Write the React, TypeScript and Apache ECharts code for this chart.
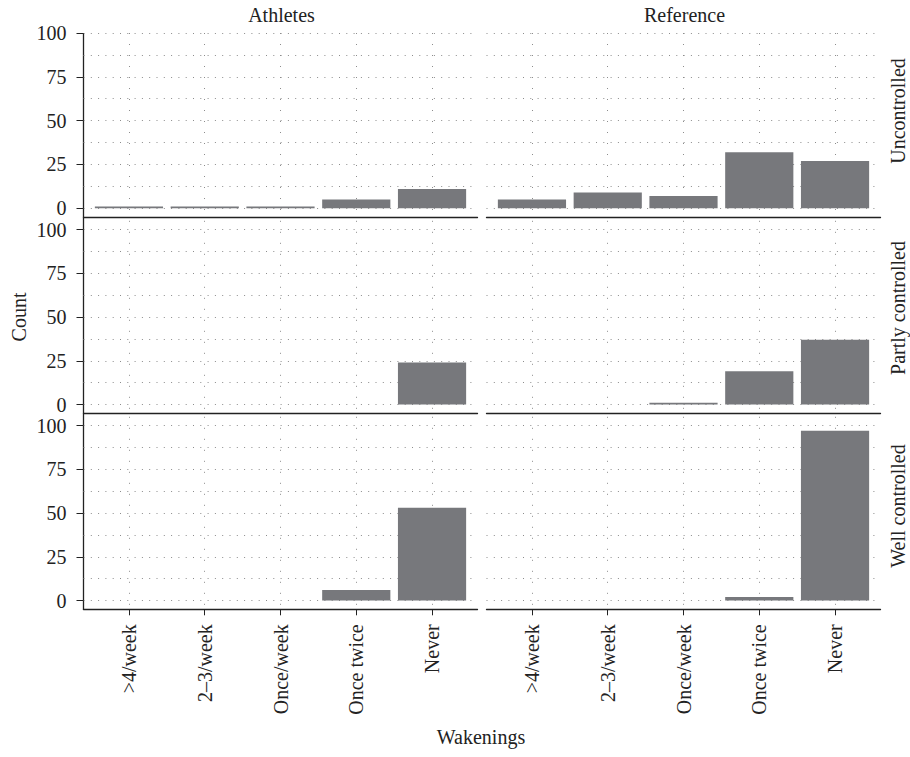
import React, { useEffect, useRef } from "react";
import * as echarts from "echarts";

// Wakening frequency categories (x axis)
const categories = [">4/week", "2–3/week", "Once/week", "Once twice", "Never"];
// Facet columns and rows
const groups = ["Athletes", "Reference"];
const controlLevels = ["Uncontrolled", "Partly controlled", "Well controlled"];
// Counts per facet
const athletesUncontrolled = [1, 1, 1, 5, 11];
const referenceUncontrolled = [5, 9, 7, 32, 27];
const athletesPartly = [0, 0, 0, 0, 24];
const referencePartly = [0, 0, 1, 19, 37];
const athletesWell = [0, 0, 0, 6, 53];
const referenceWell = [0, 0, 0, 2, 97];
// Y tick labels and minor grid values
const yTicks = [0, 25, 50, 75, 100];
const yMinor = [12.5, 37.5, 62.5, 87.5];

const facetData = [
  [athletesUncontrolled, referenceUncontrolled],
  [athletesPartly, referencePartly],
  [athletesWell, referenceWell],
];

const FONT = "Liberation Serif";
const TEXT = "#222";
const BAR = "#77787c";
const DOT = "#8c8c8c";

export default function App() {
  const ref = useRef<HTMLDivElement>(null);

  useEffect(() => {
    document.body.style.margin = "0";
    if (!ref.current) return;
    const chart = echarts.init(ref.current, undefined, { renderer: "svg" });

    const colLeft = [83.5, 486.5];
    const colWidth = 394;
    const rowTop = [33, 220.8, 416.8];
    const rowHeight = [184, 192.5, 192.5];
    const rowMax = [100, 105, 105];
    const catPos = categories.map((_, i) => i + 1);

    const grids: any[] = [];
    const xAxes: any[] = [];
    const yAxes: any[] = [];
    const series: any[] = [];

    for (let r = 0; r < 3; r++) {
      for (let c = 0; c < 2; c++) {
        const gi = grids.length;
        grids.push({
          left: colLeft[c],
          top: rowTop[r],
          width: colWidth,
          height: rowHeight[r],
          containLabel: false,
        });
        const bottomRow = r === 2;
        xAxes.push({
          type: "value",
          gridIndex: gi,
          min: 0.4,
          max: 5.6,
          position: "bottom",
          axisLine: { show: true, onZero: false, lineStyle: { color: TEXT, width: 1.3 } },
          axisTick: {
            show: bottomRow,
            customValues: catPos,
            length: 6,
            lineStyle: { color: TEXT, width: 1 },
          },
          axisLabel: {
            show: bottomRow,
            customValues: catPos,
            rotate: 90,
            margin: 15,
            fontSize: 20,
            fontFamily: FONT,
            color: TEXT,
            formatter: (v: number) => categories[Math.round(v) - 1] ?? "",
          },
          splitLine: {
            show: true,
            lineStyle: { color: DOT, width: 1, type: [1, 10] },
          },
        });
        const leftCol = c === 0;
        yAxes.push({
          type: "value",
          gridIndex: gi,
          min: -5,
          max: rowMax[r],
          axisLine: { show: false },
          axisTick: {
            show: leftCol,
            customValues: yTicks,
            length: 7,
            lineStyle: { color: TEXT, width: 1 },
          },
          axisLabel: {
            show: leftCol,
            customValues: yTicks,
            margin: 17,
            fontSize: 20,
            fontFamily: FONT,
            color: TEXT,
          },
          splitLine: {
            show: true,
            lineStyle: { color: DOT, width: 1, type: [1, 6.3] },
          },
        });
        // companion axis carrying the minor grid lines
        yAxes.push({
          type: "value",
          gridIndex: gi,
          min: -5,
          max: rowMax[r],
          axisLine: { show: false },
          axisTick: { show: false, customValues: yMinor },
          axisLabel: { show: false },
          splitLine: {
            show: true,
            lineStyle: { color: DOT, width: 1, type: [1, 6.3] },
          },
        });
        series.push({
          type: "bar",
          name: `${groups[c]} ${controlLevels[r]}`,
          xAxisIndex: gi,
          yAxisIndex: gi * 2,
          barWidth: "90%",
          itemStyle: { color: BAR },
          data: facetData[r][c].map((v, i) => [catPos[i], v]),
        });
      }
    }

    const textStyle = (text: string) => ({
      text,
      fontSize: 20,
      fontFamily: FONT,
      fill: TEXT,
      align: "center",
      verticalAlign: "middle",
    });

    const stripY = [111, 308, 506];

    const graphic: any[] = [
      {
        type: "line",
        shape: { x1: 83.5, y1: 33, x2: 83.5, y2: 609.8 },
        style: { stroke: TEXT, lineWidth: 1.3 },
      },
      ...groups.map((g, c) => ({
        type: "text",
        x: colLeft[c] + colWidth / 2 + 1,
        y: 15,
        style: textStyle(g),
      })),
      ...controlLevels.map((lv, r) => ({
        type: "text",
        x: 898,
        y: stripY[r],
        rotation: Math.PI / 2,
        style: textStyle(lv),
      })),
      {
        type: "text",
        x: 19,
        y: 317,
        rotation: Math.PI / 2,
        style: textStyle("Count"),
      },
      {
        type: "text",
        x: 481,
        y: 737,
        style: textStyle("Wakenings"),
      },
    ];

    chart.setOption({
      animation: false,
      backgroundColor: "#ffffff",
      textStyle: { fontFamily: FONT },
      grid: grids,
      xAxis: xAxes,
      yAxis: yAxes,
      series,
      graphic,
    });

    return () => chart.dispose();
  }, []);

  return <div ref={ref} style={{ width: 910, height: 757 }} />;
}
